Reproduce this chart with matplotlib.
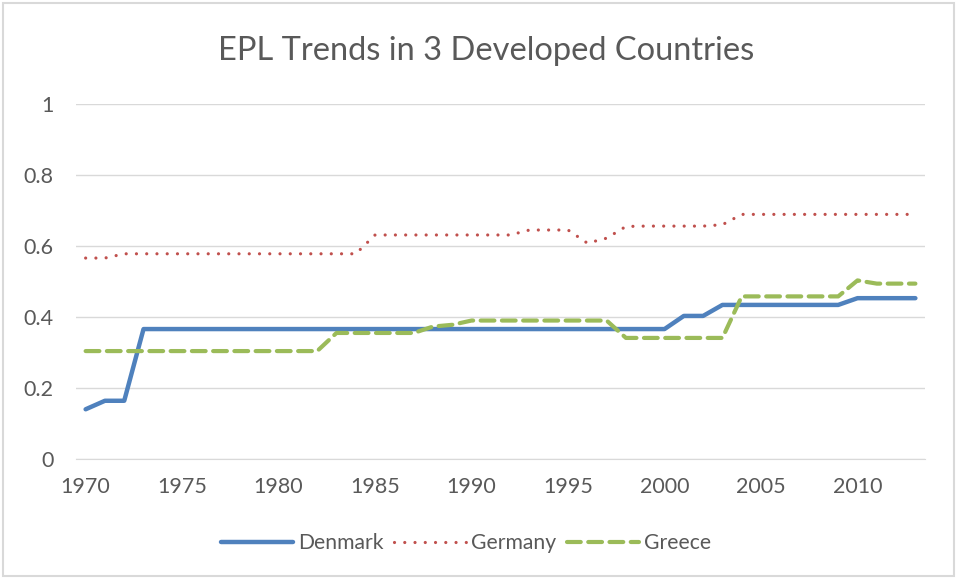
from matplotlib import pyplot as plt
from matplotlib import rcParams
from matplotlib.patches import Rectangle
import numpy as np

rcParams['font.family'] = ['Lato', 'DejaVu Sans']

years = np.arange(1970, 2014)

denmark = [0.140, 0.164, 0.164, 0.366, 0.366, 0.366, 0.366, 0.366, 0.366, 0.366,
           0.366, 0.366, 0.366, 0.366, 0.366, 0.366, 0.366, 0.366, 0.366, 0.366,
           0.366, 0.366, 0.366, 0.366, 0.366, 0.366, 0.366, 0.366, 0.366, 0.366,
           0.366, 0.403, 0.403, 0.434, 0.434, 0.434, 0.434, 0.434, 0.434, 0.434,
           0.453, 0.453, 0.453, 0.453]
germany = [0.566, 0.566, 0.578, 0.578, 0.578, 0.578, 0.578, 0.578, 0.578, 0.578,
           0.578, 0.578, 0.578, 0.578, 0.578, 0.631, 0.631, 0.631, 0.631, 0.631,
           0.631, 0.631, 0.631, 0.645, 0.645, 0.645, 0.608, 0.622, 0.655, 0.656,
           0.656, 0.656, 0.656, 0.660, 0.689, 0.689, 0.689, 0.689, 0.689, 0.689,
           0.689, 0.689, 0.689, 0.689]
greece = [0.304, 0.304, 0.304, 0.304, 0.304, 0.304, 0.304, 0.304, 0.304, 0.304,
          0.304, 0.304, 0.304, 0.355, 0.355, 0.355, 0.355, 0.355, 0.373, 0.378,
          0.390, 0.390, 0.390, 0.390, 0.390, 0.390, 0.390, 0.390, 0.341, 0.341,
          0.341, 0.341, 0.341, 0.341, 0.458, 0.458, 0.458, 0.458, 0.458, 0.458,
          0.503, 0.494, 0.494, 0.494]

xticks = [1970, 1975, 1980, 1985, 1990, 1995, 2000, 2005, 2010]
yticks = [0, 0.2, 0.4, 0.6, 0.8, 1]
ylabels = ['0', '0.2', '0.4', '0.6', '0.8', '1']

grey = '#595959'

fig = plt.figure(figsize=(9.57, 5.78), dpi=100)
ax = fig.add_axes([0.0794, 0.2059, 0.8872, 0.6142])

ax.plot(years, denmark, color='#4F81BD', linewidth=3.2, solid_capstyle='round',
        solid_joinstyle='round', label='Denmark')
ax.plot(years, germany, color='#C0504D', linewidth=2.3, linestyle=(0, (0.01, 3.2)),
        dash_capstyle='round', label='Germany')
ax.plot(years, greece, color='#9BBB59', linewidth=3.0, linestyle=(0, (3.3, 1.8)),
        dash_capstyle='round', label='Greece')

ax.set_xlim(1969.5, 2013.5)
ax.set_ylim(0, 1)
ax.set_xticks(xticks)
ax.set_yticks(yticks)
ax.set_yticklabels(ylabels)
ax.tick_params(axis='both', length=0, labelsize=15.5, colors=grey)
ax.tick_params(axis='x', pad=13)
ax.tick_params(axis='y', pad=16)
ax.grid(axis='y', color='#D9D9D9', linewidth=1)
ax.set_axisbelow(True)
for s in ['top', 'right', 'left']:
    ax.spines[s].set_visible(False)
ax.spines['bottom'].set_color('#D9D9D9')

fig.text(0.508, 0.896, 'EPL Trends in 3 Developed Countries', ha='center', va='baseline',
         fontsize=23.5, color=grey)

fig.legend(loc='center', bbox_to_anchor=(0.487, 0.06), ncol=3, frameon=False,
           fontsize=15.2, labelcolor=grey, handlelength=3.4, handletextpad=0.25,
           columnspacing=0.5)

fig.patches.append(Rectangle((0.003, 0.003), 0.994, 0.992, transform=fig.transFigure,
                             fill=False, edgecolor='#D9D9D9', linewidth=1.5))

fig.savefig('out.png', dpi=100)
